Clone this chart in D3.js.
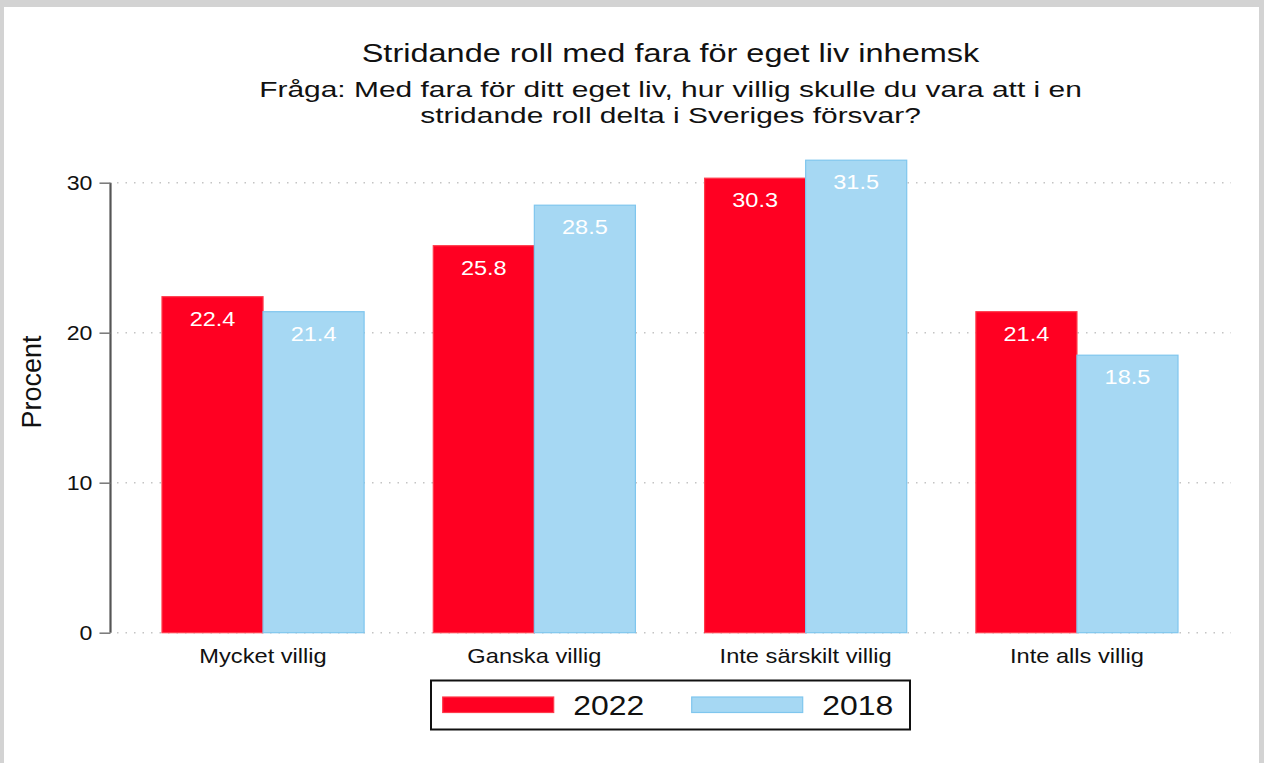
<!DOCTYPE html>
<html>
<head>
<meta charset="utf-8">
<title>Stridande roll med fara för eget liv inhemsk</title>
<script src="https://d3js.org/d3.v7.min.js"></script>
<style>
body { margin: 0; background: #d3d3d3; font-family: "Liberation Sans", Arial, sans-serif; }
</style>
</head>
<body>
<script>
// data
var categories = ["Mycket villig", "Ganska villig", "Inte särskilt villig", "Inte alls villig"];
var years = ["2022", "2018"];
var values2022 = [22.4, 25.8, 30.3, 21.4];
var values2018 = [21.4, 28.5, 31.5, 18.5];
var yTicks = [0, 10, 20, 30];

var width = 1264, height = 763;
var colors = { "2022": "#ff0022", "2018": "#a6d8f3" };
var strokes = { "2022": "#ff3a4a", "2018": "#7fc6ee" };

var svg = d3.select("body").append("svg")
  .attr("width", width)
  .attr("height", height)
  .style("display", "block");

// white panel inside the grey frame
svg.append("rect").attr("x", 4).attr("y", 7).attr("width", 1255).attr("height", 756).attr("fill", "#fff");

// text helper: the original is stretched sideways a bit
function label(g, x, y, txt, size, sx, anchor, fill) {
  return g.append("text")
    .attr("transform", "translate(" + x + "," + y + ") scale(" + sx + ",1)")
    .attr("text-anchor", anchor || "middle")
    .attr("font-size", size)
    .attr("fill", fill || "#111")
    .text(txt);
}

var cx = 670.5;
label(svg, cx, 61.7, "Stridande roll med fara för eget liv inhemsk", 26, 1.25);
label(svg, cx, 96.7, "Fråga: Med fara för ditt eget liv, hur villig skulle du vara att i en", 22.5, 1.33);
label(svg, cx, 122.7, "stridande roll delta i Sveriges försvar?", 22.5, 1.33);

// scales
var y = d3.scaleLinear().domain([0, 30]).range([632.7, 182.7]);
var x0 = d3.scaleBand().domain(categories).range([127.4, 1212.6]).paddingInner(0.255).paddingOuter(0.1275);
var x1 = d3.scaleBand().domain(years).range([0, x0.bandwidth()]);

// dotted grid
svg.append("g").selectAll("line").data(yTicks).join("line")
  .attr("x1", 117).attr("x2", 1231)
  .attr("y1", d => y(d)).attr("y2", d => y(d))
  .attr("stroke", "#c4c4c4").attr("stroke-width", 1.5)
  .attr("stroke-dasharray", "1.5,7");

// y axis
var yAxis = svg.append("g")
  .attr("transform", "translate(110.5,0)")
  .call(d3.axisLeft(y).tickValues(yTicks).tickSize(11).tickPadding(0).tickFormat(d3.format("d")));
yAxis.select(".domain").attr("stroke", "#555").attr("stroke-width", 2.2).attr("d", "M0," + y(30) + "V" + y(0));
yAxis.selectAll(".tick line").attr("stroke", "#777").attr("stroke-width", 1.5);
yAxis.selectAll(".tick text").remove();
yAxis.selectAll(".tick").each(function(d) {
  label(d3.select(this), -18, 7, d, 20.5, 1.13, "end");
});

// y title
svg.append("text")
  .attr("transform", "translate(41," + 382 + ") rotate(-90)")
  .attr("text-anchor", "middle")
  .attr("font-size", 27)
  .attr("fill", "#111")
  .text("Procent");

// bars
var rows = categories.map(function(c, i) {
  return { cat: c, vals: [{ year: "2022", v: values2022[i] }, { year: "2018", v: values2018[i] }] };
});

var groups = svg.append("g").selectAll("g").data(rows).join("g")
  .attr("transform", d => "translate(" + x0(d.cat) + ",0)");

groups.selectAll("rect").data(d => d.vals).join("rect")
  .attr("x", d => x1(d.year))
  .attr("y", d => y(d.v))
  .attr("width", x1.bandwidth())
  .attr("height", d => y(0) - y(d.v))
  .attr("fill", d => colors[d.year])
  .attr("stroke", d => strokes[d.year])
  .attr("stroke-width", 1.2);

groups.each(function(d) {
  var g = d3.select(this);
  d.vals.forEach(function(b) {
    label(g, x1(b.year) + x1.bandwidth() / 2, y(b.v) + 29, b.v.toFixed(1), 21, 1.12, "middle", "#fff");
  });
});

// category labels
categories.forEach(function(c) {
  label(svg, x0(c) + x0.bandwidth() / 2, 663, c, 21, 1.126);
});

// legend
var leg = svg.append("g");
leg.append("rect").attr("x", 431).attr("y", 680.5).attr("width", 479).attr("height", 49)
  .attr("fill", "#fff").attr("stroke", "#111").attr("stroke-width", 2);
var legX = [442.7, 691.7];
years.forEach(function(yr, i) {
  leg.append("rect").attr("x", legX[i]).attr("y", 697).attr("width", 111).attr("height", 15.5)
    .attr("fill", colors[yr]).attr("stroke", strokes[yr]).attr("stroke-width", 1.2);
  label(leg, legX[i] + 130.5, 715, yr, 28, 1.14, "start");
});
</script>
</body>
</html>
